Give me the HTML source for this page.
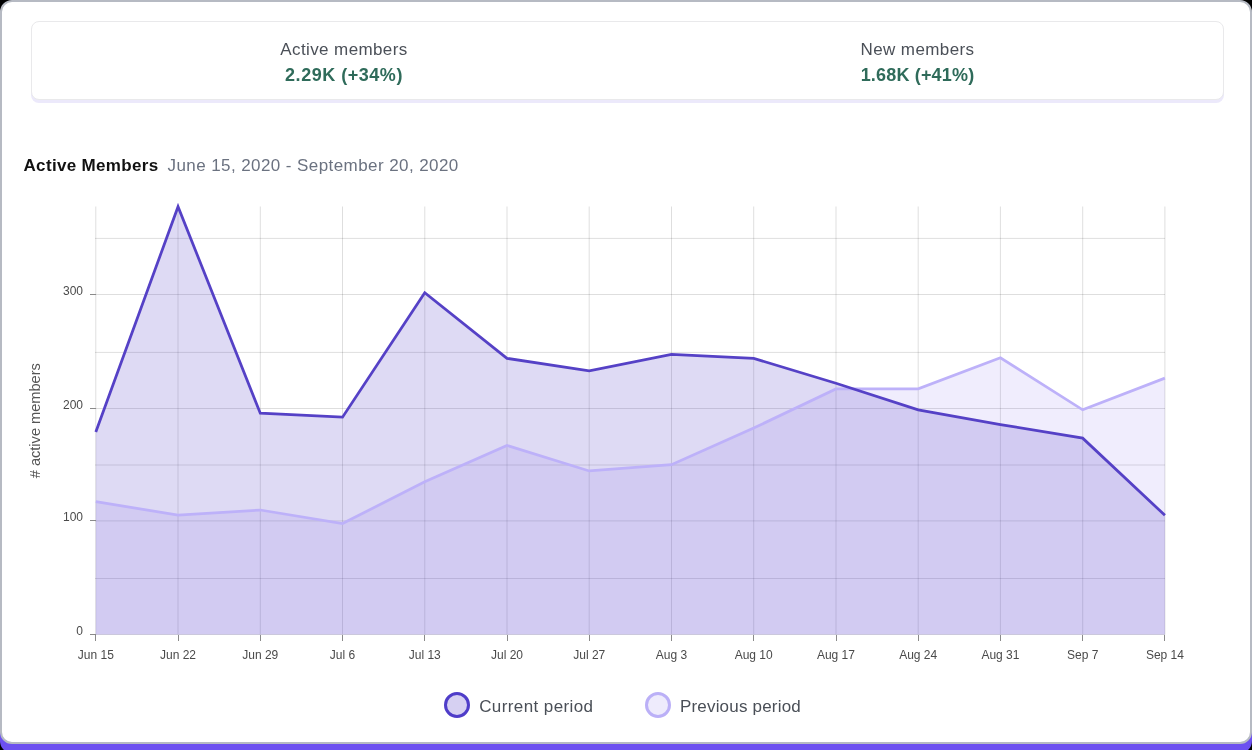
<!DOCTYPE html>
<html><head><meta charset="utf-8">
<style>
html,body{margin:0;padding:0;}
body{width:1252px;height:750px;background:#000;position:relative;overflow:hidden;font-family:"Liberation Sans",sans-serif;}
.purple{position:absolute;left:0;top:100px;width:1252px;height:653px;background:#6c50f0;border-radius:12px;}
.frame{position:absolute;left:0;top:0;width:1252px;height:744px;box-sizing:border-box;border:2px solid #b6bac3;border-radius:12px;background:#fff;}
.stats{position:absolute;left:31px;top:21px;width:1193px;height:79px;box-sizing:border-box;border:1px solid #e9e9eb;border-radius:8px;box-shadow:0 3px 0 #ece9fb;background:#fff;}
.stat{position:absolute;top:0;text-align:center;width:300px;}
.stat .lbl{position:absolute;left:0;width:300px;top:17.8px;font-size:17px;color:#4b5058;line-height:20px;white-space:nowrap;letter-spacing:0.39px;}
.stat .val{position:absolute;left:0;width:300px;top:42.6px;font-size:18px;font-weight:bold;color:#2f6b5a;line-height:20px;white-space:nowrap;}
.title{position:absolute;left:23.5px;top:155px;font-size:17px;font-weight:bold;color:#111;line-height:22px;white-space:nowrap;letter-spacing:0.33px;}
.date{position:absolute;left:167.5px;top:155px;font-size:17px;color:#6b7280;line-height:22px;white-space:nowrap;letter-spacing:0.42px;}
svg.chart{position:absolute;left:0;top:0;}
.aa{will-change:transform;}
.leg{position:absolute;top:692px;height:26px;}
.dot{position:absolute;left:0;top:0;width:26px;height:26px;box-sizing:border-box;border-radius:50%;}
.legt{position:absolute;left:35px;top:4.1px;font-size:17px;color:#4a4f57;line-height:22px;white-space:nowrap;letter-spacing:0.4px;}
</style></head>
<body>
<div class="aa" style="position:absolute;left:0;top:0;width:1252px;height:750px">
<div class="purple"></div>
<div class="frame"></div>
<div class="stats">
  <div class="stat" style="left:162px"><div class="lbl">Active members</div><div class="val" style="letter-spacing:0.52px">2.29K (+34%)</div></div>
  <div class="stat" style="left:735.5px"><div class="lbl">New members</div><div class="val" style="letter-spacing:0.18px">1.68K (+41%)</div></div>
</div>
<div class="title">Active Members</div>
<div class="date">June 15, 2020 - September 20, 2020</div>
<svg class="chart" width="1252" height="750" viewBox="0 0 1252 750">
<g stroke="rgba(0,0,0,0.13)" stroke-width="1"><line x1="95" y1="634.5" x2="1165" y2="634.5"/><line x1="95" y1="578.5" x2="1165" y2="578.5"/><line x1="95" y1="520.9" x2="1165" y2="520.9"/><line x1="95" y1="465.0" x2="1165" y2="465.0"/><line x1="95" y1="408.5" x2="1165" y2="408.5"/><line x1="95" y1="352.4" x2="1165" y2="352.4"/><line x1="95" y1="294.5" x2="1165" y2="294.5"/><line x1="95" y1="238.4" x2="1165" y2="238.4"/><line x1="95.8" y1="206.5" x2="95.8" y2="634.5"/><line x1="178.0" y1="206.5" x2="178.0" y2="634.5"/><line x1="260.3" y1="206.5" x2="260.3" y2="634.5"/><line x1="342.5" y1="206.5" x2="342.5" y2="634.5"/><line x1="424.8" y1="206.5" x2="424.8" y2="634.5"/><line x1="507.0" y1="206.5" x2="507.0" y2="634.5"/><line x1="589.2" y1="206.5" x2="589.2" y2="634.5"/><line x1="671.5" y1="206.5" x2="671.5" y2="634.5"/><line x1="753.7" y1="206.5" x2="753.7" y2="634.5"/><line x1="836.0" y1="206.5" x2="836.0" y2="634.5"/><line x1="918.2" y1="206.5" x2="918.2" y2="634.5"/><line x1="1000.4" y1="206.5" x2="1000.4" y2="634.5"/><line x1="1082.7" y1="206.5" x2="1082.7" y2="634.5"/><line x1="1164.9" y1="206.5" x2="1164.9" y2="634.5"/></g>
<g stroke="#8a8a8a" stroke-width="1" shape-rendering="crispEdges"><line x1="89.5" y1="634.5" x2="95.5" y2="634.5"/><line x1="89.5" y1="520.9" x2="95.5" y2="520.9"/><line x1="89.5" y1="408.5" x2="95.5" y2="408.5"/><line x1="89.5" y1="294.5" x2="95.5" y2="294.5"/><line x1="95.8" y1="634.5" x2="95.8" y2="641"/><line x1="178.0" y1="634.5" x2="178.0" y2="641"/><line x1="260.3" y1="634.5" x2="260.3" y2="641"/><line x1="342.5" y1="634.5" x2="342.5" y2="641"/><line x1="424.8" y1="634.5" x2="424.8" y2="641"/><line x1="507.0" y1="634.5" x2="507.0" y2="641"/><line x1="589.2" y1="634.5" x2="589.2" y2="641"/><line x1="671.5" y1="634.5" x2="671.5" y2="641"/><line x1="753.7" y1="634.5" x2="753.7" y2="641"/><line x1="836.0" y1="634.5" x2="836.0" y2="641"/><line x1="918.2" y1="634.5" x2="918.2" y2="641"/><line x1="1000.4" y1="634.5" x2="1000.4" y2="641"/><line x1="1082.7" y1="634.5" x2="1082.7" y2="641"/><line x1="1164.9" y1="634.5" x2="1164.9" y2="641"/></g>
<path d="M95.80,634.52 L95.80,501.64 178.04,515.11 260.28,510.01 342.52,523.60 424.76,481.72 507.00,445.50 589.24,470.96 671.48,464.74 753.72,428.07 835.96,388.90 918.20,388.90 1000.44,357.78 1082.68,409.84 1164.92,378.15 L1164.92,634.52 Z" fill="rgba(108,80,240,0.1)"/>
<path d="M95.80,634.52 L95.80,431.92 178.04,206.67 260.28,413.24 342.52,417.20 424.76,292.70 507.00,358.34 589.24,370.79 671.48,354.50 753.72,358.34 835.96,383.24 918.20,409.84 1000.44,424.56 1082.68,438.14 1164.92,515.33 L1164.92,634.52 Z" fill="rgba(91,69,201,0.2)"/>
<polyline points="95.80,501.64 178.04,515.11 260.28,510.01 342.52,523.60 424.76,481.72 507.00,445.50 589.24,470.96 671.48,464.74 753.72,428.07 835.96,388.90 918.20,388.90 1000.44,357.78 1082.68,409.84 1164.92,378.15" fill="none" stroke="#bdb1f9" stroke-width="2.75" stroke-linejoin="miter"/>
<polyline points="95.80,431.92 178.04,206.67 260.28,413.24 342.52,417.20 424.76,292.70 507.00,358.34 589.24,370.79 671.48,354.50 753.72,358.34 835.96,383.24 918.20,409.84 1000.44,424.56 1082.68,438.14 1164.92,515.33" fill="none" stroke="#5541c6" stroke-width="2.75" stroke-linejoin="miter"/>
<g font-family="Liberation Sans, sans-serif" font-size="12" fill="#4a4a4a"><text x="95.80" y="659.3" text-anchor="middle">Jun 15</text><text x="178.04" y="659.3" text-anchor="middle">Jun 22</text><text x="260.28" y="659.3" text-anchor="middle">Jun 29</text><text x="342.52" y="659.3" text-anchor="middle">Jul 6</text><text x="424.76" y="659.3" text-anchor="middle">Jul 13</text><text x="507.00" y="659.3" text-anchor="middle">Jul 20</text><text x="589.24" y="659.3" text-anchor="middle">Jul 27</text><text x="671.48" y="659.3" text-anchor="middle">Aug 3</text><text x="753.72" y="659.3" text-anchor="middle">Aug 10</text><text x="835.96" y="659.3" text-anchor="middle">Aug 17</text><text x="918.20" y="659.3" text-anchor="middle">Aug 24</text><text x="1000.44" y="659.3" text-anchor="middle">Aug 31</text><text x="1082.68" y="659.3" text-anchor="middle">Sep 7</text><text x="1164.92" y="659.3" text-anchor="middle">Sep 14</text><text x="83" y="635.00" text-anchor="end">0</text><text x="83" y="521.40" text-anchor="end">100</text><text x="83" y="409.00" text-anchor="end">200</text><text x="83" y="295.00" text-anchor="end">300</text></g>
<text transform="translate(40,420.7) rotate(-90)" text-anchor="middle" font-family="Liberation Sans, sans-serif" font-size="14.6" fill="#555">&#35; active members</text>
</svg>
<div class="leg" style="left:444.2px"><div class="dot" style="border:3px solid #4f3dc9;background:#d6d0f2"></div><div class="legt">Current period</div></div>
<div class="leg" style="left:644.9px"><div class="dot" style="border:3px solid #bbb0f7;background:#eeebfc"></div><div class="legt" style="letter-spacing:0.2px">Previous period</div></div>
</div>
</body></html>
